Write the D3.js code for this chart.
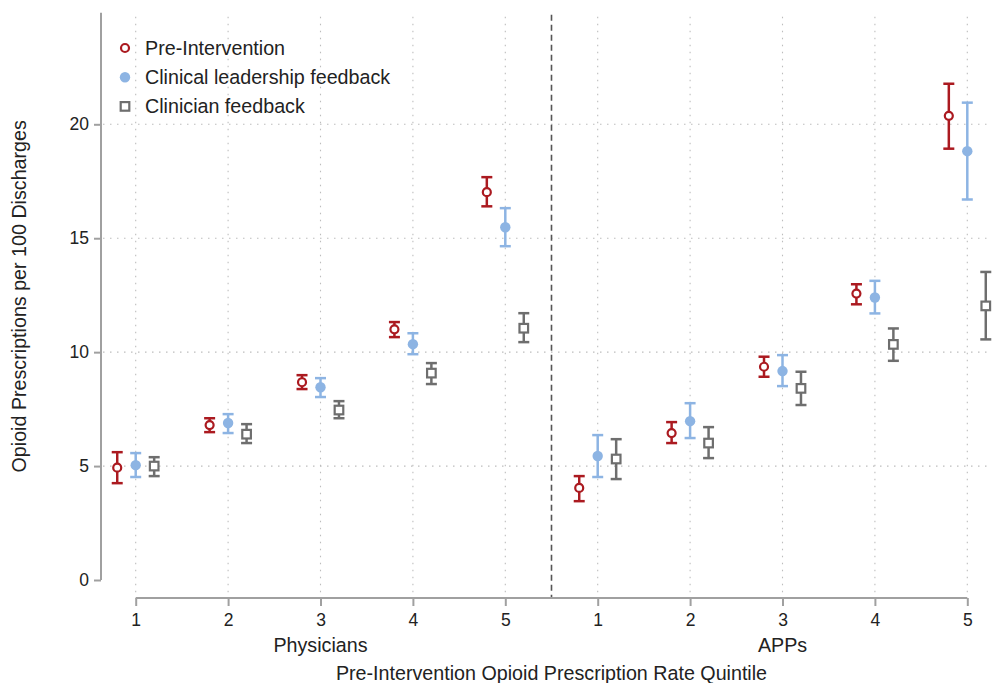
<!DOCTYPE html>
<html lang="en">
<head>
  <meta charset="UTF-8">
  <title>Opioid Prescriptions by Quintile</title>
  <style>
    body { margin: 0; background: #fff; }
    svg { font-family: "Liberation Sans", Arial, sans-serif; }
    .grid line { stroke: #bdbdbd; stroke-width: 1.1; stroke-dasharray: 1.5,5.5; }
    .axis path, .axis line { stroke: #a0a0a0; stroke-width: 2; }
    .axis text { fill: #222; font-size: 17.5px; }
  </style>
</head>
<body>
<div id="chart"></div>
<script src="https://d3js.org/d3.v7.min.js"></script>
<script>
  // positions 1-5 = physicians, 6-10 = APPs
  const positions = [1, 2, 3, 4, 5, 6, 7, 8, 9, 10];
  const tickLabels = ["1", "2", "3", "4", "5", "1", "2", "3", "4", "5"];
  const groups = ["Physicians", "APPs"];
  const groupCenters = [3, 8];
  const yTicks = [0, 5, 10, 15, 20];

  const preMean = [4.93, 6.80, 8.68, 11.00, 17.02, 4.04, 6.45, 9.36, 12.57, 20.37];
  const preLo   = [4.25, 6.49, 8.38, 10.66, 16.40, 3.46, 6.01, 8.92, 12.10, 18.93];
  const preHi   = [5.61, 7.10, 8.99, 11.32, 17.68, 4.56, 6.93, 9.80, 12.98, 21.78];

  const leadMean = [5.04, 6.89, 8.46, 10.35, 15.48, 5.44, 6.97, 9.17, 12.40, 18.82];
  const leadLo   = [4.52, 6.45, 8.03, 9.91, 14.65, 4.52, 6.23, 8.51, 11.70, 16.70];
  const leadHi   = [5.57, 7.28, 8.86, 10.83, 16.32, 6.36, 7.76, 9.87, 13.13, 20.95];

  const clinMean = [5.00, 6.40, 7.46, 9.08, 11.05, 5.31, 6.01, 8.41, 10.34, 12.03];
  const clinLo   = [4.56, 6.01, 7.10, 8.60, 10.44, 4.43, 5.35, 7.68, 9.62, 10.56];
  const clinHi   = [5.39, 6.84, 7.85, 9.52, 11.71, 6.18, 6.71, 9.14, 11.04, 13.52];

  const series = [
    {name: "Pre-Intervention", mean: preMean, lo: preLo, hi: preHi, offset: -0.2, color: "#ab1a20", marker: "hollowCircle"},
    {name: "Clinical leadership feedback", mean: leadMean, lo: leadLo, hi: leadHi, offset: 0, color: "#8db4e3", marker: "filledCircle"},
    {name: "Clinician feedback", mean: clinMean, lo: clinLo, hi: clinHi, offset: 0.2, color: "#6e6e6e", marker: "hollowSquare"}
  ];

  const W = 992, H = 683;
  const svg = d3.select("#chart").append("svg")
    .attr("width", W)
    .attr("height", H);

  const x = d3.scaleLinear().domain([1, 10]).range([135.7, 967.3]);
  const y = d3.scaleLinear().domain([0, 20]).range([580, 124.3]);
  const plotTop = y(24.9), plotBottom = 597;

  // gridlines
  svg.append("g")
    .attr("class", "grid")
    .selectAll("line")
    .data(yTicks.filter(d => d > 0))
    .enter().append("line")
    .attr("x1", 103).attr("x2", W)
    .attr("y1", d => y(d)).attr("y2", d => y(d));

  svg.append("g")
    .attr("class", "grid")
    .selectAll("line")
    .data(positions)
    .enter().append("line")
    .attr("x1", d => x(d)).attr("x2", d => x(d))
    .attr("y1", plotTop + 4).attr("y2", plotBottom - 3);

  // separator
  svg.append("line")
    .attr("x1", x(5.5)).attr("x2", x(5.5))
    .attr("y1", plotTop + 2).attr("y2", plotBottom)
    .attr("stroke", "#555")
    .attr("stroke-width", 1.6)
    .attr("stroke-dasharray", "6,4");

  // y axis
  const yAxis = svg.append("g")
    .attr("class", "axis")
    .attr("transform", "translate(101,0)")
    .call(d3.axisLeft(y).tickValues(yTicks).tickSize(7).tickPadding(5));
  yAxis.select(".domain").attr("d", `M0,${plotTop}V${y(0)}`);

  // x axis
  const xAxis = svg.append("g")
    .attr("class", "axis")
    .attr("transform", `translate(0,${plotBottom + 1})`)
    .call(d3.axisBottom(x).tickValues(positions).tickSize(8).tickPadding(8)
      .tickFormat((d, i) => tickLabels[i]));
  xAxis.select(".domain").attr("d", `M${x(1)},0H${x(10)}`);

  // group labels
  svg.selectAll(".group-label")
    .data(groups)
    .enter().append("text")
    .attr("class", "group-label")
    .attr("x", (d, i) => x(groupCenters[i]))
    .attr("y", 652)
    .attr("text-anchor", "middle")
    .style("font-size", "19.7px")
    .attr("fill", "#222")
    .text(d => d);

  svg.append("text")
    .attr("x", x(5.5))
    .attr("y", 680)
    .attr("text-anchor", "middle")
    .style("font-size", "19.7px")
    .attr("fill", "#222")
    .text("Pre-Intervention Opioid Prescription Rate Quintile");

  svg.append("text")
    .attr("transform", `translate(26,${(plotTop + y(0)) / 2}) rotate(-90)`)
    .attr("text-anchor", "middle")
    .style("font-size", "19.7px")
    .attr("fill", "#222")
    .text("Opioid Prescriptions per 100 Discharges");

  function drawMarker(g, type, color) {
    if (type === "hollowCircle") {
      g.append("circle").attr("r", 4).attr("fill", "#fff")
        .attr("stroke", color).attr("stroke-width", 2.2);
    } else if (type === "filledCircle") {
      g.append("circle").attr("r", 5.2).attr("fill", color);
    } else {
      g.append("rect").attr("x", -4.3).attr("y", -4.3).attr("width", 8.6).attr("height", 8.6)
        .attr("fill", "#fff").attr("stroke", color).attr("stroke-width", 2.2);
    }
  }

  // error bars + markers
  series.forEach(s => {
    const g = svg.append("g");
    positions.forEach((p, i) => {
      const cx = x(p + s.offset);
      const bar = g.append("g").attr("stroke", s.color).attr("stroke-width", 2.5);
      bar.append("line").attr("x1", cx).attr("x2", cx).attr("y1", y(s.lo[i])).attr("y2", y(s.hi[i]));
      bar.append("line").attr("x1", cx - 5.5).attr("x2", cx + 5.5).attr("y1", y(s.lo[i])).attr("y2", y(s.lo[i]));
      bar.append("line").attr("x1", cx - 5.5).attr("x2", cx + 5.5).attr("y1", y(s.hi[i])).attr("y2", y(s.hi[i]));
      const m = g.append("g").attr("transform", `translate(${cx},${y(s.mean[i])})`);
      drawMarker(m, s.marker, s.color);
    });
  });

  // legend
  const legend = svg.append("g").attr("transform", "translate(125,48)");
  series.forEach((s, i) => {
    const row = legend.append("g").attr("transform", `translate(0,${i * 29.2})`);
    drawMarker(row, s.marker, s.color);
    row.append("text")
      .attr("x", 20)
      .attr("y", 7)
      .style("font-size", "19.7px")
      .attr("fill", "#222")
      .text(s.name);
  });
</script>
</body>
</html>
